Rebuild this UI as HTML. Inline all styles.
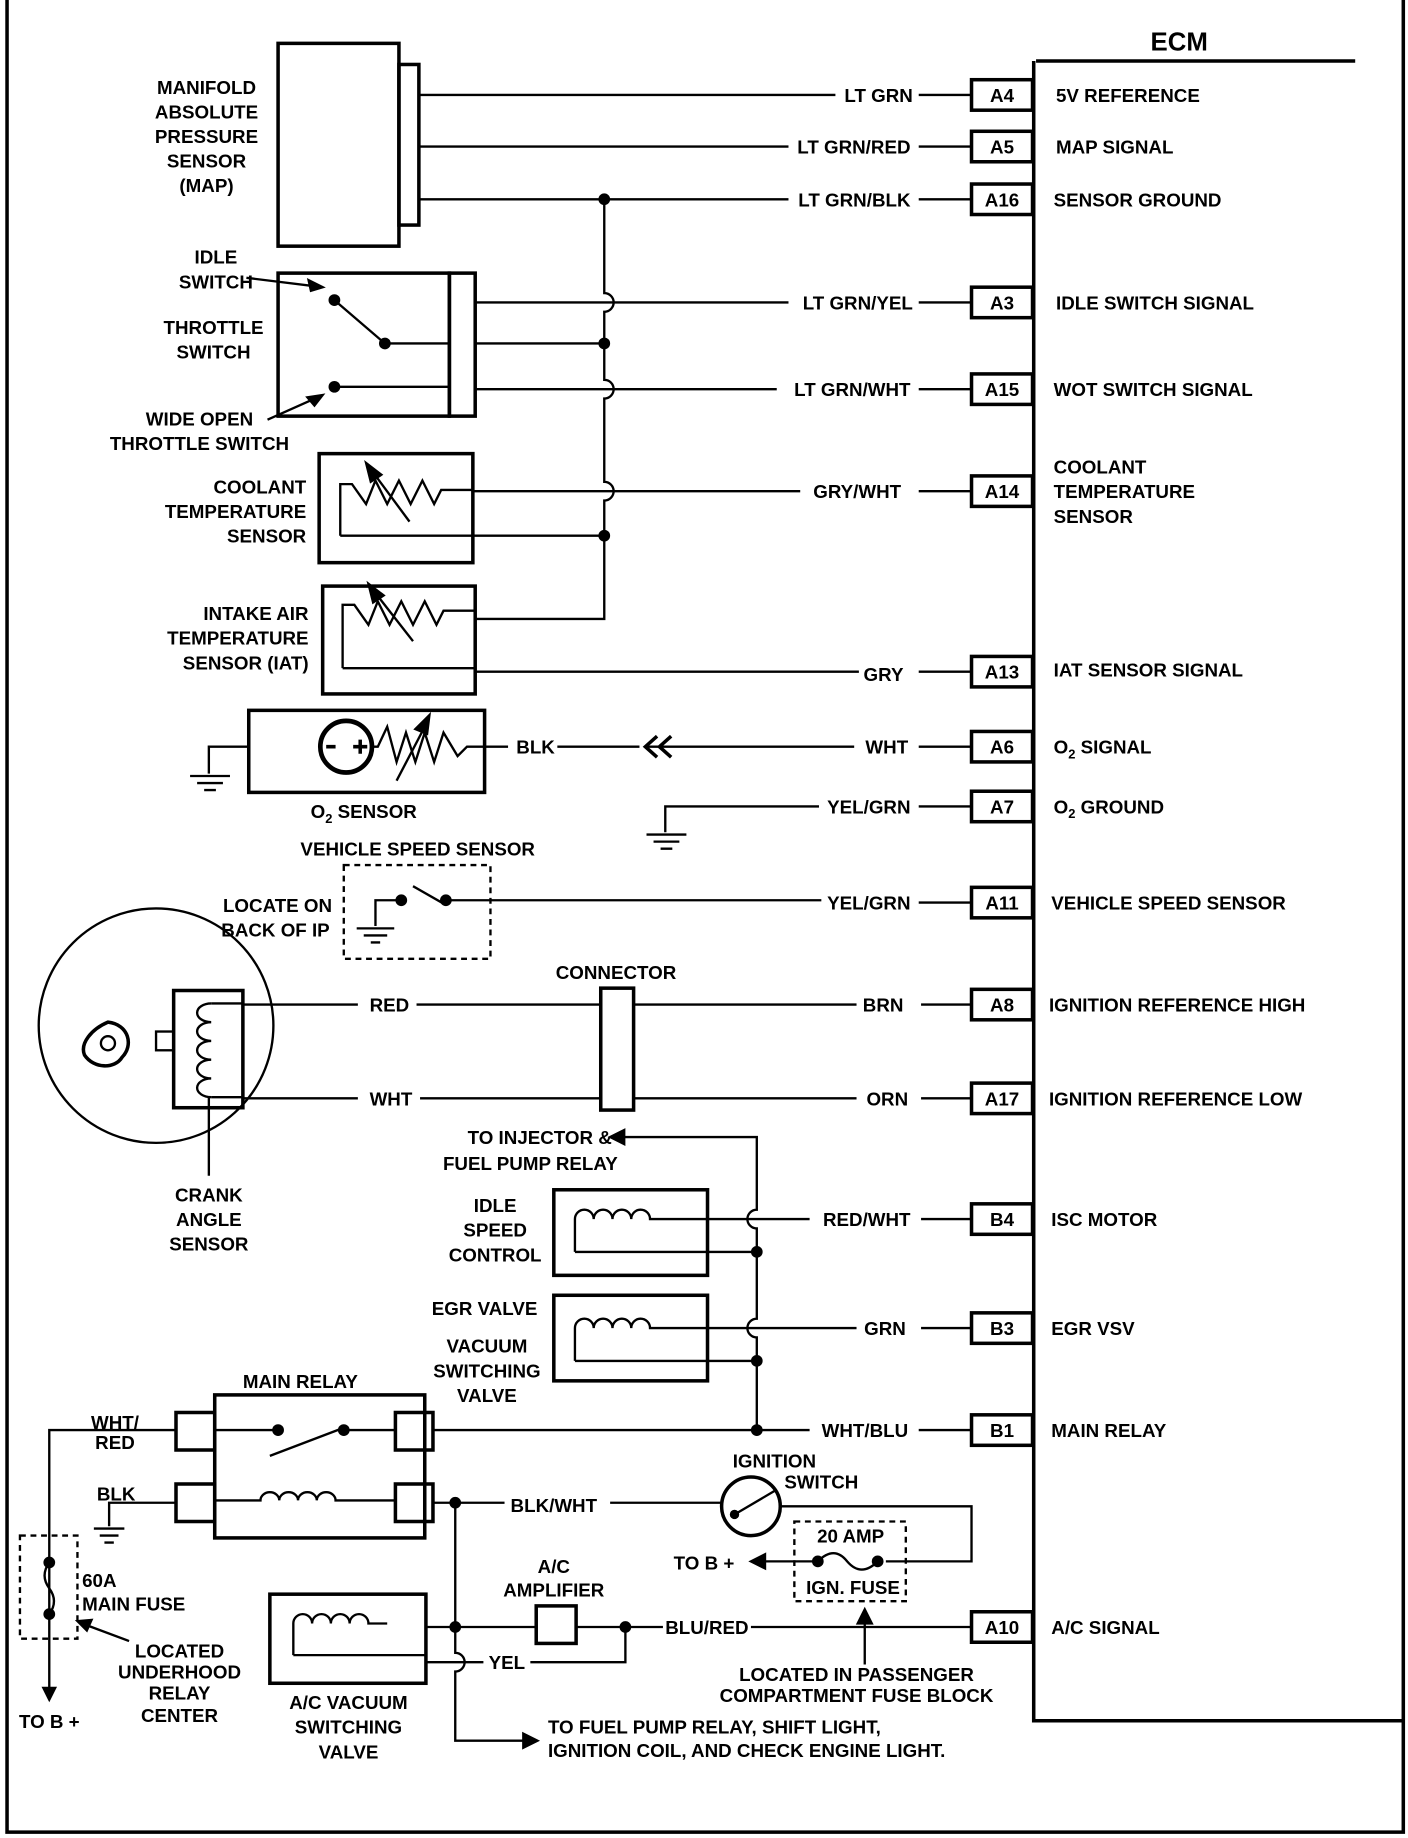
<!DOCTYPE html>
<html><head><meta charset="utf-8"><style>
html,body{margin:0;padding:0;background:#fff}
svg{display:block}
text{font-family:"Liberation Sans",sans-serif;font-weight:bold;font-size:16px;fill:#000}
.e{text-anchor:end}.m{text-anchor:middle}
</style></head><body>
<svg width="1408" height="1838" viewBox="0 0 1200 1568" preserveAspectRatio="none" xmlns="http://www.w3.org/2000/svg">
<g fill="none" stroke="#000" stroke-width="2">
<path d="M6 0 V1563 H1196 V0" stroke-width="3"/>
<path d="M883 52 H1155 M881 52 V1468 H1196" stroke-width="3"/>
<g stroke-width="3">
<rect x="828" y="68" width="52" height="26"/><rect x="828" y="112" width="52" height="26"/>
<rect x="828" y="157" width="52" height="26"/><rect x="828" y="245" width="52" height="26"/>
<rect x="828" y="319" width="52" height="26"/><rect x="828" y="406" width="52" height="26"/>
<rect x="828" y="560" width="52" height="26"/><rect x="828" y="624" width="52" height="26"/>
<rect x="828" y="675" width="52" height="26"/><rect x="828" y="757" width="52" height="26"/>
<rect x="828" y="844" width="52" height="26"/><rect x="828" y="924" width="52" height="26"/>
<rect x="828" y="1027" width="52" height="26"/><rect x="828" y="1120" width="52" height="26"/>
<rect x="828" y="1207" width="52" height="26"/><rect x="828" y="1375" width="52" height="26"/>
</g>
<rect x="237" y="37" width="103" height="173" stroke-width="3"/>
<rect x="340" y="55" width="17" height="137" stroke-width="3"/>
<path d="M357 81 H712 M783 81 H828 M357 125 H672 M783 125 H828 M357 170 H672 M783 170 H828"/>
<path d="M515 170 V250 a8 8 0 0 1 0 16 V324 a8 8 0 0 1 0 16 V411 a8 8 0 0 1 0 16 V528 H405"/>
<rect x="237" y="233" width="146" height="122" stroke-width="3"/>
<rect x="383" y="233" width="22" height="122" stroke-width="3"/>
<path d="M405 258 H672 M783 258 H828 M405 293 H515 M405 332 H662 M783 332 H828"/>
<path d="M285 256 L328 293 H383 M285 330 H383"/>
<path d="M210 237 L275 245 M228 358 L275 337"/>
<path d="M275 245 l-12 -6 l2 9z M275 337 l-13 2 l6 7z" fill="#000"/>
<rect x="272" y="387" width="131" height="93" stroke-width="3"/>
<path d="M290 457 V413 H300 L312 430 L320 410 L330 430 L340 410 L350 430 L360 410 L370 430 L376 418 H403 M403 419 H682 M783 419 H828 M290 457 H515"/>
<path d="M349 445 L318 403"/><path d="M312 395 l4 16 l9 -6z" fill="#000"/>
<rect x="275" y="500" width="130" height="92" stroke-width="3"/>
<path d="M292 570 V516 H302 L314 533 L322 513 L332 533 L342 513 L352 533 L362 513 L372 533 L378 521 H405 M292 570 H405 M405 573 H732 M783 573 H828"/>
<path d="M352 547 L320 506"/><path d="M314 498 l4 16 l9 -6z" fill="#000"/>
<rect x="212" y="606" width="201" height="70" stroke-width="3"/>
<circle cx="295" cy="637" r="22" stroke-width="4"/>
<path d="M286 637 h-8 M301 637 h12 M307 631 v12" stroke-width="3"/>
<path d="M317 637 H322 L330 620 L338 650 L346 625 L354 650 L362 625 L370 650 L378 625 L390 645 L398 637 H413 M413 637 H433 M475 637 H545 M550 637 H728 M783 637 H828"/>
<path d="M338 666 L362 620"/><path d="M366 610 l-12 12 l10 4z" fill="#000"/>
<path d="M560 628 L550 637 L560 646 M572 628 L562 637 L572 646" stroke-width="3"/>
<path d="M212 637 H178 V660 M162 662 H196 M168 668 H190 M174 674 H184"/>
<path d="M698 688 H567 V710 M551 712 H585 M557 718 H579 M563 724 H573 M783 688 H828"/>
<rect x="293" y="738" width="125" height="80" stroke-dasharray="5 4"/>
<path d="M320 790 V768 H342 M352 756 L380 772 M380 768 H700 M783 770 H828 M304 792 H336 M310 798 H330 M316 804 H324"/>
<circle cx="133" cy="875" r="100"/>
<rect x="148" y="845" width="59" height="100" stroke-width="3"/>
<rect x="133" y="880" width="15" height="16" stroke-width="2"/>
<path d="M180 856 a12 8 0 1 0 0 16 a12 8 0 1 0 0 16 a12 8 0 1 0 0 16 a12 8 0 1 0 0 16 a12 8 0 1 0 0 16"/>
<path d="M180 856 H207 M180 936 H207"/>
<path d="M92 872 C110 874 114 892 104 902 C98 912 80 912 72 900 C68 890 78 878 92 872z" stroke-width="3"/>
<circle cx="92" cy="890" r="6"/>
<path d="M207 857 H305 M355 857 H512 M540 857 H730 M785 857 H828 M207 937 H305 M358 937 H512 M540 937 H730 M785 937 H828 M178 935 V1003"/>
<rect x="512" y="843" width="28" height="104" stroke-width="3"/>
<path d="M645 1220 V1141 a8 8 0 0 1 0 -16 V1048 a8 8 0 0 1 0 -16 V970 H525"/>
<path d="M520 970 l12 -6 v12z" fill="#000"/>
<rect x="472" y="1015" width="131" height="73" stroke-width="3"/>
<path d="M490 1068 V1040 a8 8 0 0 1 16 0 a8 8 0 0 1 16 0 a8 8 0 0 1 16 0 a8 8 0 0 1 16 0 H560 M560 1040 H690 M785 1040 H828 M490 1068 H645"/>
<rect x="472" y="1105" width="131" height="73" stroke-width="3"/>
<path d="M490 1161 V1133 a8 8 0 0 1 16 0 a8 8 0 0 1 16 0 a8 8 0 0 1 16 0 a8 8 0 0 1 16 0 H730 M785 1133 H828 M490 1161 H645"/>
<rect x="183" y="1190" width="179" height="122" stroke-width="3"/>
<rect x="150" y="1205" width="33" height="32" stroke-width="3"/>
<rect x="150" y="1266" width="33" height="32" stroke-width="3"/>
<rect x="337" y="1205" width="32" height="32" stroke-width="3"/>
<rect x="337" y="1266" width="32" height="32" stroke-width="3"/>
<path d="M183 1220 H237 M230 1242 L293 1218 M293 1220 H337"/>
<path d="M183 1280 H222 a8 7 0 0 1 16 0 a8 7 0 0 1 16 0 a8 7 0 0 1 16 0 a8 7 0 0 1 16 0 H337"/>
<path d="M369 1220 H690 M783 1220 H828"/>
<path d="M150 1220 H42 V1443 M150 1282 H93 V1302 M80 1304 H106 M85 1310 H101 M89 1316 H97"/>
<path d="M42 1450 l-5 -10 h10z" fill="#000"/>
<rect x="17" y="1310" width="49" height="88" stroke-dasharray="5 4"/>
<path d="M42 1333 q-8 11 0 22 q8 11 0 22"/>
<path d="M110 1400 L70 1385"/><path d="M66 1383 l12 -1 l-4 9z" fill="#000"/>
<path d="M369 1282 H430 M520 1282 H615 M388 1282 V1410 a8 8 0 0 1 0 16 V1485 H450"/>
<path d="M458 1485 l-12 -6 v12z" fill="#000"/>
<circle cx="640" cy="1285" r="25" stroke-width="3"/>
<path d="M626 1292 L660 1272 M665 1285 H828 V1332 H755 M697 1332 H648"/>
<path d="M640 1332 l12 -6 v12z" fill="#000"/>
<path d="M697 1332 q14 -14 25 0 q12 14 26 0"/>
<rect x="677" y="1298" width="95" height="68" stroke-dasharray="5 4"/>
<path d="M737 1420 V1380"/><path d="M737 1373 l-6 12 h12z" fill="#000"/>
<rect x="230" y="1360" width="133" height="76" stroke-width="3"/>
<path d="M250 1412 V1385 a8 8 0 0 1 16 0 a8 8 0 0 1 16 0 a8 8 0 0 1 16 0 a8 8 0 0 1 16 0 H330 M250 1412 H363 M363 1388 H457 M363 1418 H412 M452 1418 H533 V1388 M491 1388 H565 M640 1388 H828"/>
<rect x="457" y="1370" width="34" height="32" stroke-width="3"/>
</g>
<g fill="#000">
<circle cx="515" cy="170" r="5"/><circle cx="515" cy="293" r="5"/><circle cx="515" cy="457" r="5"/>
<circle cx="285" cy="256" r="5"/><circle cx="328" cy="293" r="5"/><circle cx="285" cy="330" r="5"/>
<circle cx="342" cy="768" r="5"/><circle cx="380" cy="768" r="5"/>
<circle cx="645" cy="1068" r="5"/><circle cx="645" cy="1161" r="5"/><circle cx="645" cy="1220" r="5"/>
<circle cx="237" cy="1220" r="5"/><circle cx="293" cy="1220" r="5"/>
<circle cx="388" cy="1282" r="5"/><circle cx="388" cy="1388" r="5"/><circle cx="533" cy="1388" r="5"/>
<circle cx="626" cy="1292" r="4"/>
<circle cx="42" cy="1333" r="5"/><circle cx="42" cy="1377" r="5"/>
<circle cx="697" cy="1332" r="5"/><circle cx="748" cy="1332" r="5"/>
</g>
<text x="1005" y="43" class="m" style="font-size:22px">ECM</text>
<g class="m">
<text x="854" y="87">A4</text><text x="854" y="131">A5</text><text x="854" y="176">A16</text>
<text x="854" y="264">A3</text><text x="854" y="338">A15</text><text x="854" y="425">A14</text>
<text x="854" y="579">A13</text><text x="854" y="643">A6</text><text x="854" y="694">A7</text>
<text x="854" y="776">A11</text><text x="854" y="863">A8</text><text x="854" y="943">A17</text>
<text x="854" y="1046">B4</text><text x="854" y="1139">B3</text><text x="854" y="1226">B1</text>
<text x="854" y="1394">A10</text>
</g>
<text x="900" y="87">5V REFERENCE</text><text x="900" y="131">MAP SIGNAL</text>
<text x="898" y="176">SENSOR GROUND</text><text x="900" y="264">IDLE SWITCH SIGNAL</text>
<text x="898" y="338">WOT SWITCH SIGNAL</text>
<text x="898" y="404">COOLANT</text><text x="898" y="425">TEMPERATURE</text><text x="898" y="446">SENSOR</text>
<text x="898" y="577">IAT SENSOR SIGNAL</text>
<text x="898" y="643">O<tspan font-size="11" dy="4">2</tspan><tspan dy="-4"> SIGNAL</tspan></text>
<text x="898" y="694">O<tspan font-size="11" dy="4">2</tspan><tspan dy="-4"> GROUND</tspan></text>
<text x="896" y="776">VEHICLE SPEED SENSOR</text>
<text x="894" y="863">IGNITION REFERENCE HIGH</text><text x="894" y="943">IGNITION REFERENCE LOW</text>
<text x="896" y="1046">ISC MOTOR</text><text x="896" y="1139">EGR VSV</text>
<text x="896" y="1226">MAIN RELAY</text><text x="896" y="1394">A/C SIGNAL</text>
<g class="e">
<text x="778" y="87">LT GRN</text><text x="776" y="131">LT GRN/RED</text><text x="776" y="176">LT GRN/BLK</text>
<text x="778" y="264">LT GRN/YEL</text><text x="776" y="338">LT GRN/WHT</text><text x="768" y="425">GRY/WHT</text>
<text x="770" y="581">GRY</text><text x="774" y="643">WHT</text><text x="776" y="694">YEL/GRN</text>
<text x="776" y="776">YEL/GRN</text><text x="770" y="863">BRN</text><text x="774" y="943">ORN</text>
<text x="776" y="1046">RED/WHT</text><text x="772" y="1139">GRN</text><text x="774" y="1226">WHT/BLU</text>
<text x="638" y="1394">BLU/RED</text>
</g>
<g class="m">
<text x="176" y="80">MANIFOLD</text><text x="176" y="101">ABSOLUTE</text><text x="176" y="122">PRESSURE</text><text x="176" y="143">SENSOR</text><text x="176" y="164">(MAP)</text>
<text x="184" y="225">IDLE</text><text x="184" y="246">SWITCH</text>
<text x="182" y="285">THROTTLE</text><text x="182" y="306">SWITCH</text>
<text x="170" y="363">WIDE OPEN</text><text x="170" y="384">THROTTLE SWITCH</text>
<text x="310" y="698">O<tspan font-size="11" dy="4">2</tspan><tspan dy="-4"> SENSOR</tspan></text>
<text x="356" y="730">VEHICLE SPEED SENSOR</text>
<text x="525" y="835">CONNECTOR</text>
<text x="178" y="1025">CRANK</text><text x="178" y="1046">ANGLE</text><text x="178" y="1067">SENSOR</text>
<text x="460" y="976">TO INJECTOR &amp;</text><text x="452" y="998">FUEL PUMP RELAY</text>
<text x="422" y="1034">IDLE</text><text x="422" y="1055">SPEED</text><text x="422" y="1076">CONTROL</text>
<text x="413" y="1122">EGR VALVE</text>
<text x="415" y="1154">VACUUM</text><text x="415" y="1175">SWITCHING</text><text x="415" y="1196">VALVE</text>
<text x="256" y="1184">MAIN RELAY</text>
<text x="98" y="1219">WHT/</text><text x="98" y="1236">RED</text>
<text x="99" y="1280">BLK</text>
<text x="153" y="1414">LOCATED</text><text x="153" y="1432">UNDERHOOD</text><text x="153" y="1450">RELAY</text><text x="153" y="1469">CENTER</text>
<text x="42" y="1474">TO B +</text>
<text x="472" y="1290">BLK/WHT</text>
<text x="660" y="1252">IGNITION</text><text x="700" y="1270">SWITCH</text>
<text x="725" y="1316">20 AMP</text><text x="727" y="1360">IGN. FUSE</text>
<text x="600" y="1339">TO B +</text>
<text x="472" y="1342">A/C</text><text x="472" y="1362">AMPLIFIER</text>
<text x="432" y="1424">YEL</text>
<text x="730" y="1434">LOCATED IN PASSENGER</text><text x="730" y="1452">COMPARTMENT FUSE BLOCK</text>
<text x="297" y="1458">A/C VACUUM</text><text x="297" y="1479">SWITCHING</text><text x="297" y="1500">VALVE</text>
</g>
<g class="e">
<text x="261" y="421">COOLANT</text><text x="261" y="442">TEMPERATURE</text><text x="261" y="463">SENSOR</text>
<text x="263" y="529">INTAKE AIR</text><text x="263" y="550">TEMPERATURE</text><text x="263" y="571">SENSOR (IAT)</text>
<text x="283" y="778">LOCATE ON</text><text x="281" y="799">BACK OF IP</text>
</g>
<text x="440" y="643">BLK</text>
<text x="315" y="863">RED</text><text x="315" y="943">WHT</text>
<text x="70" y="1354">60A</text><text x="70" y="1374">MAIN FUSE</text>
<text x="467" y="1479">TO FUEL PUMP RELAY, SHIFT LIGHT,</text>
<text x="467" y="1499">IGNITION COIL, AND CHECK ENGINE LIGHT.</text>
</svg>
</body></html>
